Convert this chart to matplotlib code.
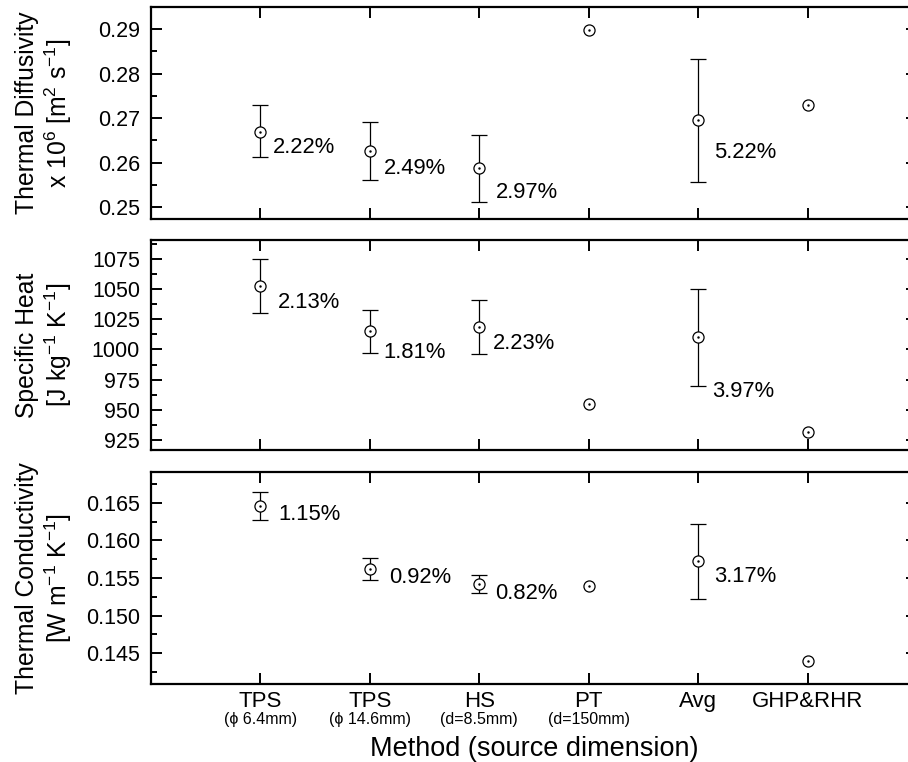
import numpy as np
import matplotlib
matplotlib.use("Agg")
import matplotlib.pyplot as plt
from matplotlib.ticker import MultipleLocator, FormatStrFormatter

plt.rcParams['font.family'] = ['Liberation Sans', 'DejaVu Sans']
plt.rcParams['mathtext.fontset'] = 'custom'
plt.rcParams['mathtext.rm'] = 'Liberation Sans'
plt.rcParams['mathtext.it'] = 'Liberation Sans'

methods = ['TPS', 'TPS', 'HS', 'PT', 'Avg', 'GHP&RHR']
sources = ['(\u03d5 6.4mm)', '(\u03d5 14.6mm)', '(d=8.5mm)', '(d=150mm)', '', '']

# thermal diffusivity x1e6 [m2/s]
diff_val = [0.2669, 0.2627, 0.2587, 0.2898, 0.2696, 0.2729]
diff_lo = [0.2612, 0.2560, 0.2511, np.nan, 0.2557, np.nan]
diff_hi = [0.2729, 0.2692, 0.2662, np.nan, 0.2834, np.nan]
diff_pct = ['2.22%', '2.49%', '2.97%', '', '5.22%', '']

# specific heat [J/kg/K]
cp_val = [1052.5, 1015.0, 1019.0, 955.0, 1010.0, 932.0]
cp_lo = [1030.0, 997.0, 996.0, np.nan, 970.0, np.nan]
cp_hi = [1075.0, 1033.0, 1041.0, np.nan, 1050.0, np.nan]
cp_pct = ['2.13%', '1.81%', '2.23%', '', '3.97%', '']

# thermal conductivity [W/m/K]
k_val = [0.1646, 0.1562, 0.1542, 0.1540, 0.1572, 0.1440]
k_lo = [0.1627, 0.1548, 0.1530, np.nan, 0.1522, np.nan]
k_hi = [0.1665, 0.1576, 0.1554, np.nan, 0.1622, np.nan]
k_pct = ['1.15%', '0.92%', '0.82%', '', '3.17%', '']

x = np.arange(1, len(methods) + 1)

fig = plt.figure(figsize=(9.08, 7.62), dpi=100)
left, width = 151 / 908, (917 - 151) / 908

panels = [
    dict(val=diff_val, lo=diff_lo, hi=diff_hi, pct=diff_pct,
         ylim=(0.2473, 0.2950), major=0.01, minor=0.005, fmt='%.2f',
         label='Thermal Diffusivity\nx 10$^6$ [m$^2$ s$^{-1}$]',
         top=7, bot=219, offs=[(12, 16), (14, 18), (17, 24), None, (16, 33), None]),
    dict(val=cp_val, lo=cp_lo, hi=cp_hi, pct=cp_pct,
         ylim=(916.7, 1090.7), major=25, minor=12.5, fmt='%d',
         label='Specific Heat\n[J kg$^{-1}$ K$^{-1}$]',
         top=240, bot=450, offs=[(17, 16), (14, 21), (14, 17), None, (14, 54), None]),
    dict(val=k_val, lo=k_lo, hi=k_hi, pct=k_pct,
         ylim=(0.1409, 0.1691), major=0.005, minor=0.0025, fmt='%.3f',
         label='Thermal Conductivity\n[W m$^{-1}$ K$^{-1}$]',
         top=472, bot=684, offs=[(18, 9), (19, 9), (16, 9), None, (16, 15), None]),
]

axes = []
for p in panels:
    ax = fig.add_axes([left, 1 - p['bot'] / 762, width, (p['bot'] - p['top']) / 762])
    axes.append(ax)
    val = np.array(p['val'])
    lo = np.array(p['lo'])
    hi = np.array(p['hi'])
    has = ~np.isnan(lo)
    ax.errorbar(x[has], val[has], yerr=[val[has] - lo[has], hi[has] - val[has]],
                fmt='none', ecolor='black', elinewidth=0.9, capsize=6, capthick=0.9)
    ax.plot(x, val, 'o', ms=8, mfc='white', mec='black', mew=0.9, zorder=3)
    ax.plot(x, val, '.', ms=1.5, color='black', zorder=4)
    for xi, vi, txt, off in zip(x, val, p['pct'], p['offs']):
        if txt:
            ax.annotate(txt, (xi, vi), xytext=(off[0] / 1.389, -off[1] / 1.389),
                        textcoords='offset points', ha='left', va='center', fontsize=15.8)
    ax.set_xlim(0, 7)
    ax.set_ylim(*p['ylim'])
    ax.set_xticks(x)
    ax.yaxis.set_major_locator(MultipleLocator(p['major']))
    ax.yaxis.set_minor_locator(MultipleLocator(p['minor']))
    ax.yaxis.set_major_formatter(FormatStrFormatter(p['fmt']))
    ax.tick_params(which='both', direction='in', top=True, right=True, width=1.4,
                   labelsize=15.5, pad=8)
    ax.tick_params(which='major', length=8)
    ax.tick_params(which='minor', length=4.5)
    for s in ax.spines.values():
        s.set_linewidth(1.6)
    ax.set_ylabel(p['label'], fontsize=17.8, linespacing=1.15)
    ax.yaxis.set_label_coords(-0.1, 0.5)
    ax.set_xticklabels([])

ax = axes[-1]
ax.set_xticklabels(methods, fontsize=16)
ax.tick_params(axis='x', pad=5)
for xi, s in zip(x, sources):
    if s:
        ax.annotate(s, (xi, 0), xycoords=('data', 'axes fraction'), xytext=(0, -36 / 1.389),
                    textcoords='offset points', ha='center', va='center', fontsize=11.5)
ax.set_xlabel('Method (source dimension)', fontsize=19.5, labelpad=17)

fig.savefig('out.png', dpi=100)
